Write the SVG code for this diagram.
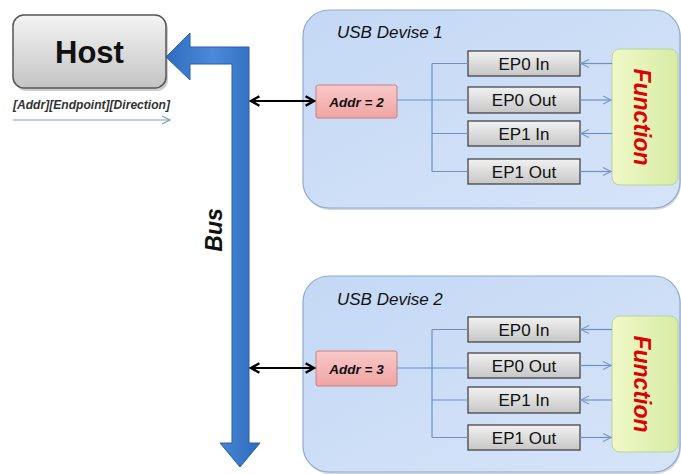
<svg xmlns="http://www.w3.org/2000/svg" width="681" height="474" viewBox="0 0 681 474">
<defs>
<linearGradient id="gHost" x1="0" y1="0" x2="0" y2="1"><stop offset="0" stop-color="#f4f4f4"/><stop offset="1" stop-color="#c4c4c4"/></linearGradient>
<linearGradient id="gDev" x1="0" y1="0" x2="1" y2="1"><stop offset="0" stop-color="#c4d8f5"/><stop offset="1" stop-color="#d6e4f8"/></linearGradient>
<linearGradient id="gAddr" x1="0" y1="0" x2="0" y2="1"><stop offset="0" stop-color="#f9c9c9"/><stop offset="1" stop-color="#f0a4a4"/></linearGradient>
<linearGradient id="gEP" x1="0" y1="0" x2="0" y2="1"><stop offset="0" stop-color="#f2f2f2"/><stop offset="1" stop-color="#c6c6c6"/></linearGradient>
<linearGradient id="gFn" x1="0" y1="0" x2="1" y2="0"><stop offset="0" stop-color="#f0f8c8"/><stop offset="1" stop-color="#d6eca4"/></linearGradient>
<linearGradient id="gBus" x1="0" y1="0" x2="1" y2="0"><stop offset="0" stop-color="#2f6bbd"/><stop offset="0.5" stop-color="#4a8ad8"/><stop offset="1" stop-color="#2f6bbd"/></linearGradient>
<marker id="chev" viewBox="0 0 10 10" refX="9" refY="5" markerWidth="10" markerHeight="10" markerUnits="userSpaceOnUse" orient="auto-start-reverse"><path d="M1,1 L9,5 L1,9" fill="none" stroke="#7d9cc8" stroke-width="1.2"/></marker>
<marker id="blk" viewBox="0 0 10 10" refX="8" refY="5" markerWidth="12" markerHeight="12" markerUnits="userSpaceOnUse" orient="auto-start-reverse"><path d="M1,1 L8,5 L1,9" fill="none" stroke="#000" stroke-width="2"/></marker>
</defs>
<style>
text{font-family:"Liberation Sans",Arial,sans-serif}
.dev{fill:url(#gDev);stroke:#8eaad0;stroke-width:1.2}
.shadow{fill:#b8bcc4;opacity:0.6}
.ep{fill:url(#gEP);stroke:#3a3a3a;stroke-width:1.2}
.ept{font-size:17px;fill:#111;text-anchor:middle}
.addr{fill:url(#gAddr);stroke:#c98080;stroke-width:1}
.addrt{font-size:13.5px;font-weight:bold;font-style:italic;fill:#111;text-anchor:middle}
.fn{fill:url(#gFn);stroke:#b9d49a;stroke-width:1}
.fnt{font-size:23px;font-weight:bold;font-style:italic;fill:#e00000;text-anchor:middle}
.title{font-size:17px;font-style:italic;fill:#111}
.wire{fill:none;stroke:#6f90c0;stroke-width:1.2}
.bi{fill:none;stroke:#000;stroke-width:2}
</style>
<g id="host">
<rect x="15" y="18" width="153" height="73" rx="11" fill="#9a9a9a" opacity="0.5"/>
<rect x="13" y="15" width="153" height="73" rx="11" fill="url(#gHost)" stroke="#555" stroke-width="1.5"/>
<text x="89.5" y="63" font-size="31" font-weight="bold" text-anchor="middle" fill="#111">Host</text>
</g>
<g id="legend">
<text x="13" y="109" font-size="13" font-style="italic" font-weight="bold" fill="#333" textLength="157" lengthAdjust="spacingAndGlyphs">[Addr][Endpoint][Direction]</text>
<line x1="13" y1="120" x2="170" y2="120" stroke="#7d9cc8" stroke-width="1" marker-end="url(#chev)"/>
</g>
<g id="bus">
<path d="M240,467 L220,443 L232,443 L232,64 L190,64 L190,80 L166,57 L190,33 L190,47 L249,47 L249,443 L260,443 Z" fill="url(#gBus)" stroke="#2a5fa8" stroke-width="1"/>
<text transform="translate(222,230) rotate(-90)" font-size="23" font-weight="bold" font-style="italic" text-anchor="middle" fill="#111">Bus</text>
</g>
<g id="device1">
<rect class="shadow" x="304" y="12" width="377" height="198" rx="26"/>
<rect class="dev" x="303" y="10" width="377" height="198" rx="26"/>
<text class="title" x="337" y="38">USB Devise 1</text>
</g>
<g id="addr1"><rect class="addr" x="316" y="85" width="81" height="33" rx="2"/><text class="addrt" x="356.5" y="106.5">Addr = 2</text></g>
<g id="ep0in1"><rect class="ep" x="468" y="51" width="112" height="25"/><text class="ept" x="524" y="69.5">EP0 In</text></g>
<g id="ep0out1"><rect class="ep" x="468" y="87" width="112" height="26"/><text class="ept" x="524" y="106">EP0 Out</text></g>
<g id="ep1in1"><rect class="ep" x="468" y="121" width="112" height="25"/><text class="ept" x="524" y="139.5">EP1 In</text></g>
<g id="ep1out1"><rect class="ep" x="468" y="159" width="112" height="25"/><text class="ept" x="524" y="177.5">EP1 Out</text></g>
<g id="fn1"><rect class="fn" x="612" y="49" width="66" height="136" rx="8"/><text class="fnt" transform="translate(634,117) rotate(90)">Function</text></g>
<g id="device2">
<rect class="shadow" x="304" y="278" width="377" height="196" rx="26"/>
<rect class="dev" x="303" y="276" width="377" height="196" rx="26"/>
<text class="title" x="337" y="305">USB Devise 2</text>
</g>
<g id="addr2"><rect class="addr" x="316" y="351" width="81" height="35" rx="2"/><text class="addrt" x="356.5" y="373.5">Addr = 3</text></g>
<g id="ep0in2"><rect class="ep" x="468" y="317" width="112" height="25"/><text class="ept" x="524" y="335.5">EP0 In</text></g>
<g id="ep0out2"><rect class="ep" x="468" y="353" width="112" height="25"/><text class="ept" x="524" y="371.5">EP0 Out</text></g>
<g id="ep1in2"><rect class="ep" x="468" y="387" width="112" height="26"/><text class="ept" x="524" y="406">EP1 In</text></g>
<g id="ep1out2"><rect class="ep" x="468" y="425" width="112" height="25"/><text class="ept" x="524" y="443.5">EP1 Out</text></g>
<g id="fn2"><rect class="fn" x="612" y="316" width="66" height="136" rx="8"/><text class="fnt" transform="translate(634,384) rotate(90)">Function</text></g>
<g id="connectors">
<line class="bi" x1="251" y1="101" x2="314" y2="101" marker-start="url(#blk)" marker-end="url(#blk)"/>
<line class="bi" x1="251" y1="368" x2="314" y2="368" marker-start="url(#blk)" marker-end="url(#blk)"/>
<path class="wire" d="M397,100 L468,100 M432,63.5 L432,171.5 M432,63.5 L468,63.5 M432,133.5 L468,133.5 M432,171.5 L468,171.5"/>
<path class="wire" d="M397,368 L468,368 M432,329.5 L432,437.5 M432,329.5 L468,329.5 M432,400 L468,400 M432,437.5 L468,437.5"/>
<line class="wire" x1="612" y1="63.5" x2="581" y2="63.5" marker-end="url(#chev)"/>
<line class="wire" x1="580" y1="100" x2="611" y2="100" marker-end="url(#chev)"/>
<line class="wire" x1="612" y1="133.5" x2="581" y2="133.5" marker-end="url(#chev)"/>
<line class="wire" x1="580" y1="171.5" x2="611" y2="171.5" marker-end="url(#chev)"/>
<line class="wire" x1="612" y1="329.5" x2="581" y2="329.5" marker-end="url(#chev)"/>
<line class="wire" x1="580" y1="365.5" x2="611" y2="365.5" marker-end="url(#chev)"/>
<line class="wire" x1="612" y1="400" x2="581" y2="400" marker-end="url(#chev)"/>
<line class="wire" x1="580" y1="437.5" x2="611" y2="437.5" marker-end="url(#chev)"/>
</g>
</svg>
